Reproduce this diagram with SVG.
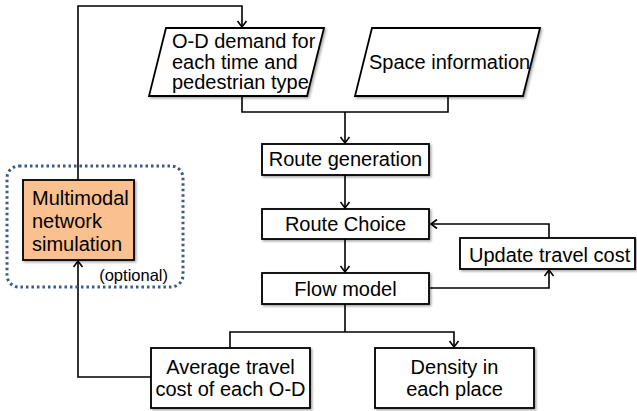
<svg xmlns="http://www.w3.org/2000/svg" width="637" height="411" viewBox="0 0 637 411">
<defs>
<style>
.box{fill:#fff;stroke:#000;stroke-width:1.8;filter:url(#sh)}
.orange{fill:#FAC090;stroke:#000;stroke-width:1.8;filter:url(#sh)}
.t{font-family:"Liberation Sans",Arial,sans-serif;font-size:20px;fill:#000}
.c{text-anchor:middle}
.ln{fill:none;stroke:#000;stroke-width:1.6;marker-end:url(#ah)}
.pl{fill:none;stroke:#000;stroke-width:1.6}
.dot{fill:none;stroke:#3A5A86;stroke-width:3;stroke-dasharray:2.5 3}
</style>
<filter id="sh" x="-10%" y="-10%" width="130%" height="140%">
<feDropShadow dx="1.5" dy="1.5" stdDeviation="1.2" flood-color="#000" flood-opacity="0.35"/>
</filter>
<marker id="ah" markerWidth="12" markerHeight="12" refX="9" refY="6" orient="auto" markerUnits="userSpaceOnUse">
<path d="M3,1.5 L9,6 L3,10.5" fill="none" stroke="#000" stroke-width="1.6"/>
</marker>
</defs>

<g id="connectors">
<polyline class="ln" points="78,180 78,6 242,6 242,27"/>
<polyline class="pl" points="242,96 242,112 448,112 448,96"/>
<line class="ln" x1="345" y1="112" x2="345" y2="143"/>
<line class="ln" x1="345" y1="175" x2="345" y2="208"/>
<line class="ln" x1="345" y1="239" x2="345" y2="272"/>
<polyline class="ln" points="429,288 549,288 549,270"/>
<polyline class="ln" points="549,238 549,224 431,224"/>
<line class="pl" x1="345" y1="304" x2="345" y2="332"/>
<polyline class="ln" points="230,347 230,332 454,332 454,347"/>
<polyline class="ln" points="151,377 78,377 78,261"/>
</g>

<g id="optional-group">
<rect class="dot" x="7" y="166" width="176" height="121" rx="12"/>
<text class="t" x="168" y="281" text-anchor="end" style="font-size:16.5px">(optional)</text>
</g>

<g id="multimodal">
<rect class="orange" x="23" y="180" width="111" height="80"/>
<text class="t" x="32" y="205">Multimodal</text>
<text class="t" x="32" y="228">network</text>
<text class="t" x="32" y="251">simulation</text>
</g>

<g id="od-demand">
<polygon class="box" points="166,28 324,28 307,96 149,96"/>
<text class="t" x="172" y="48">O-D demand for</text>
<text class="t" x="172" y="69">each time and</text>
<text class="t" x="172" y="89">pedestrian type</text>
</g>

<g id="space-info">
<polygon class="box" points="372,28 540,28 523,96 355,96"/>
<text class="t" x="369" y="69">Space information</text>
</g>

<g id="route-generation">
<rect class="box" x="262" y="144" width="167" height="31"/>
<text class="t c" x="345.5" y="166">Route generation</text>
</g>

<g id="route-choice">
<rect class="box" x="262" y="209" width="167" height="30"/>
<text class="t c" x="345.5" y="231">Route Choice</text>
</g>

<g id="flow-model">
<rect class="box" x="262" y="273" width="167" height="31"/>
<text class="t c" x="345.5" y="296">Flow model</text>
</g>

<g id="update-travel-cost">
<rect class="box" x="460" y="238" width="175" height="31"/>
<text class="t" x="469" y="262">Update travel cost</text>
</g>

<g id="average-travel-cost">
<rect class="box" x="151" y="348" width="159" height="60"/>
<text class="t c" x="230.5" y="374">Average travel</text>
<text class="t c" x="230.5" y="396">cost of each O-D</text>
</g>

<g id="density">
<rect class="box" x="375" y="348" width="159" height="60"/>
<text class="t c" x="454.5" y="374">Density in</text>
<text class="t c" x="454.5" y="396">each place</text>
</g>
</svg>
